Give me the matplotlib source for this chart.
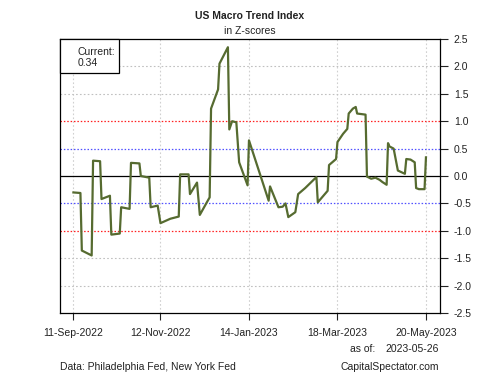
import matplotlib
matplotlib.use("Agg")
import matplotlib.pyplot as plt
import matplotlib.dates as mdates
from matplotlib.patches import Rectangle
import pandas as pd

plt.rcParams['font.family'] = ['Liberation Sans', 'DejaVu Sans']

dates = ["2022-09-11", "2022-09-16", "2022-09-17", "2022-09-24", "2022-09-25", "2022-09-30",
         "2022-10-01", "2022-10-07", "2022-10-08", "2022-10-14", "2022-10-15", "2022-10-21",
         "2022-10-22", "2022-10-28", "2022-10-29", "2022-11-04", "2022-11-05", "2022-11-10",
         "2022-11-12", "2022-11-19", "2022-11-25", "2022-11-26", "2022-12-02", "2022-12-03",
         "2022-12-08", "2022-12-10", "2022-12-15", "2022-12-17", "2022-12-18", "2022-12-23",
         "2022-12-24", "2022-12-30", "2022-12-31", "2023-01-02", "2023-01-05", "2023-01-07",
         "2023-01-13", "2023-01-14", "2023-01-21", "2023-01-28", "2023-01-29", "2023-02-04",
         "2023-02-07", "2023-02-09", "2023-02-11", "2023-02-16", "2023-02-18", "2023-02-23",
         "2023-03-03", "2023-03-04", "2023-03-11", "2023-03-12", "2023-03-17", "2023-03-18",
         "2023-03-22", "2023-03-25", "2023-03-26", "2023-03-29", "2023-03-31", "2023-04-01",
         "2023-04-07", "2023-04-08", "2023-04-11", "2023-04-14", "2023-04-17", "2023-04-19",
         "2023-04-22", "2023-04-23", "2023-04-24", "2023-04-27", "2023-04-30", "2023-05-05",
         "2023-05-06", "2023-05-09", "2023-05-12", "2023-05-13", "2023-05-15", "2023-05-19",
         "2023-05-20"]
values = [-0.30, -0.31, -1.36, -1.45, 0.28, 0.27,
          -0.42, -0.36, -1.07, -1.05, -0.57, -0.60,
          0.24, 0.23, 0.00, -0.03, -0.57, -0.54,
          -0.86, -0.78, -0.74, 0.03, 0.03, -0.33,
          -0.12, -0.71, -0.48, -0.39, 1.23, 1.58,
          2.05, 2.35, 0.85, 1.00, 0.98, 0.25,
          -0.17, 0.65, 0.10, -0.45, -0.19, -0.57,
          -0.56, -0.50, -0.75, -0.66, -0.33, -0.22,
          -0.02, -0.48, -0.27, 0.20, 0.31, 0.62,
          0.77, 0.86, 1.14, 1.23, 1.26, 1.14,
          1.12, -0.01, -0.05, -0.03, -0.07, -0.11,
          -0.16, 0.60, 0.54, 0.50, 0.10, 0.04,
          0.31, 0.30, 0.25, -0.22, -0.24, -0.24,
          0.34]
tick_dates = ["2022-09-11", "2022-11-12", "2023-01-14", "2023-03-18", "2023-05-20"]
y_ticks = [2.5, 2.0, 1.5, 1.0, 0.5, 0.0, -0.5, -1.0, -1.5, -2.0, -2.5]
current_value = "0.34"
as_of = "2023-05-26"

x = pd.to_datetime(dates)
xt = pd.to_datetime(tick_dates)

fig = plt.figure(figsize=(5, 3.75), dpi=100)
ax = fig.add_axes([0.119, 0.1653, 0.761, 0.7307])

for t in xt:
    ax.axvline(t, color='#d0d0d0', linestyle=(0, (1.5, 2)), linewidth=0.8, zorder=1)
for yv in [2.0, 1.5, -1.5, -2.0]:
    ax.axhline(yv, color='#c0c0c0', linestyle=(0, (1.5, 2)), linewidth=0.8, zorder=1)
for yv in [1.0, -1.0]:
    ax.axhline(yv, color='#ff2020', linestyle=(0, (1.2, 1.5)), linewidth=0.9, zorder=1)
for yv in [0.5, -0.5]:
    ax.axhline(yv, color='#5050ff', linestyle=(0, (1.2, 1.5)), linewidth=0.9, zorder=1)
ax.axhline(0.0, color='black', linewidth=0.9, zorder=1)

ax.plot(x, values, color='#566b30', linewidth=1.6, zorder=3)

x0 = mdates.date2num(pd.Timestamp("2022-09-11"))
x1 = mdates.date2num(pd.Timestamp("2023-05-20"))
ax.set_xlim(x0 - 9.9, x1 + 10)
ax.set_ylim(-2.5, 2.5)

ax.set_xticks(xt)
ax.xaxis.set_major_formatter(mdates.DateFormatter('%d-%b-%Y'))
ax.yaxis.tick_right()
ax.set_yticks(y_ticks)
ax.set_yticklabels([f"{v:.1f}" for v in y_ticks])
ax.tick_params(axis='y', direction='out', length=6, width=0.8, labelsize=7.5, pad=4, colors='#222222')
ax.tick_params(axis='x', direction='out', length=5, width=0.8, labelsize=7.5, pad=6, colors='#222222')
for s in ax.spines.values():
    s.set_linewidth(0.9)
    s.set_color('black')

# legend box
ax.add_patch(Rectangle((0, 1 - 0.125), 0.157, 0.125, transform=ax.transAxes,
                       facecolor='white', edgecolor='black', linewidth=0.9, zorder=5, clip_on=False))
ax.text(0.048, 0.954, "Current:", transform=ax.transAxes, fontsize=7.5, va='center', ha='left', zorder=6, color='#222222')
ax.text(0.048, 0.912, current_value, transform=ax.transAxes, fontsize=7.5, va='center', ha='left', zorder=6, color='#222222')

fig.text(0.4995, 1 - 15.7/375, "US Macro Trend Index", ha='center', va='center', fontsize=7.5, fontweight='bold', color='#222222')
fig.text(0.4995, 1 - 30.7/375, "in Z-scores", ha='center', va='center', fontsize=7.5, color='#222222')
fig.text(375.7/500, 1 - 349.3/375, "as of:", ha='right', va='center', fontsize=7.5, color='#222222')
fig.text(439/500, 1 - 349.3/375, as_of, ha='right', va='center', fontsize=7.5, color='#222222')
fig.text(60/500, 1 - 367.3/375, "Data: Philadelphia Fed, New York Fed", ha='left', va='center', fontsize=7.5, color='#222222')
fig.text(439/500, 1 - 367.3/375, "CapitalSpectator.com", ha='right', va='center', fontsize=7.5, color='#222222')

fig.savefig("out.png", dpi=100)
